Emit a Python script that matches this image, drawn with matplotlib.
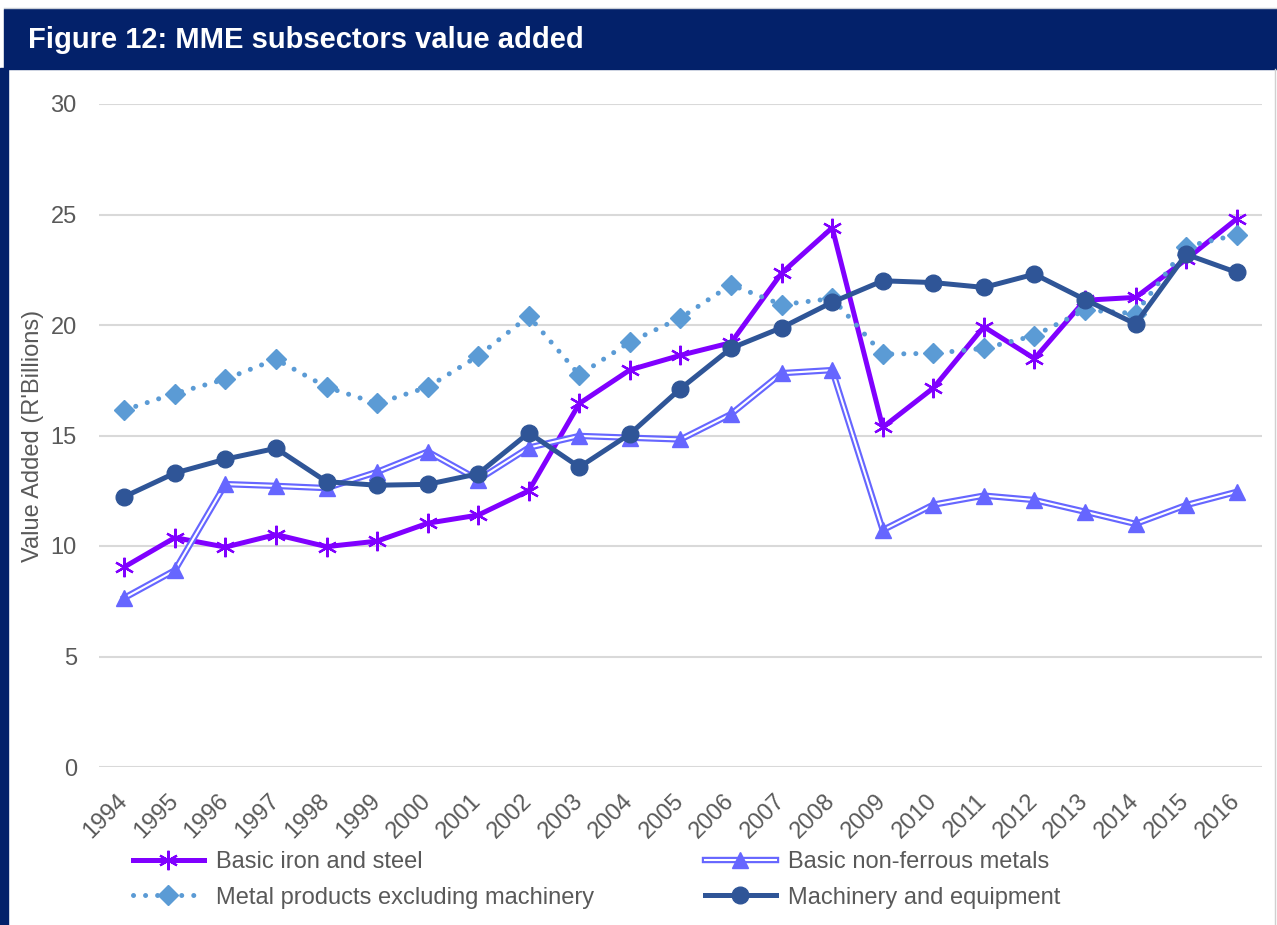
import matplotlib
matplotlib.use("Agg")
import matplotlib.pyplot as plt
import numpy as np
from matplotlib.lines import Line2D
from matplotlib.patches import Rectangle
from matplotlib.legend_handler import HandlerTuple

plt.rcParams["font.family"] = ["Liberation Sans", "DejaVu Sans"]

TITLE = "Figure 12: MME subsectors value added"
Y_LABEL = "Value Added (R'Billions)"

years = [str(y) for y in range(1994, 2017)]

iron_steel = [9.05, 10.38, 9.95, 10.52, 9.97, 10.22, 11.03, 11.4, 12.5, 16.45,
              17.97, 18.63, 19.2, 22.35, 24.4, 15.37, 17.15, 19.92, 18.48,
              21.12, 21.25, 22.97, 24.8]
non_ferrous = [7.65, 8.9, 12.8, 12.72, 12.62, 13.35, 14.27, 13.0, 14.45, 14.98,
               14.9, 14.82, 15.97, 17.82, 17.96, 10.72, 11.87, 12.28, 12.08,
               11.55, 11.0, 11.85, 12.45]
metal_products = [16.15, 16.9, 17.55, 18.45, 17.19, 16.45, 17.19, 18.6, 20.4,
                  17.74, 19.23, 20.32, 21.82, 20.92, 21.2, 18.68, 18.72, 18.94,
                  19.52, 20.68, 20.52, 23.55, 24.08]
machinery = [12.23, 13.3, 13.93, 14.42, 12.91, 12.75, 12.79, 13.27, 15.12,
             13.57, 15.07, 17.12, 18.95, 19.88, 21.03, 22.0, 21.92, 21.7, 22.3,
             21.15, 20.05, 23.2, 22.38]

labels = ["Basic iron and steel", "Basic non-ferrous metals",
          "Metal products excluding machinery", "Machinery and equipment"]

NAVY = "#03216A"
TEXT = "#595959"
C_IRON = "#8000FF"
C_NONF = "#6666FF"
C_METAL = "#5B9BD5"
C_MACH = "#2F5597"
ASTERISK = (6, 2, 0)

W, H = 1277, 925
fig = plt.figure(figsize=(W / 100, H / 100), dpi=100)

# frame: title band, navy left bar, thin grey edges
fig.patches.append(Rectangle((4 / W, 1 - 69 / H), 1 - 4 / W, 60 / H,
                             transform=fig.transFigure, color=NAVY, zorder=0))
fig.patches.append(Rectangle((0, 0), 8 / W, 1 - 68 / H,
                             transform=fig.transFigure, color=NAVY, zorder=0))
fig.lines.append(Line2D([4 / W, 1], [1 - 8 / H, 1 - 8 / H],
                        transform=fig.transFigure, color="#C8CDD6", lw=1))
fig.lines.append(Line2D([1 - 2 / W, 1 - 2 / W], [0, 1 - 69 / H],
                        transform=fig.transFigure, color="#D0D0D0", lw=1))
fig.text(28 / W, 1 - 40 / H, TITLE, color="white", fontsize=21,
         fontweight="bold", va="center", ha="left")

ax = fig.add_axes([99 / W, 1 - 767 / H, 1163 / W, 663 / H])
x = np.arange(len(years))

ax.plot(x, iron_steel, color=C_IRON, lw=3.6, marker=ASTERISK, ms=14,
        mew=1.6, mec=C_IRON, zorder=3)
ax.plot(x, non_ferrous, color=C_NONF, lw=4.6, solid_joinstyle="miter", zorder=4)
ax.plot(x, non_ferrous, color="white", lw=1.5, solid_joinstyle="miter", zorder=4)
ax.plot(x, non_ferrous, ls="none", marker="^", ms=12, color=C_NONF, zorder=4)
ax.plot(x, metal_products, color=C_METAL, lw=3.6, ls=(0, (0.01, 2.4)),
        dash_capstyle="round", marker="D", ms=10, zorder=5)
ax.plot(x, machinery, color=C_MACH, lw=3.6, marker="o", ms=12, zorder=6)

ax.set_xlim(-0.5, len(years) - 0.5)
ax.set_ylim(0, 30)
ax.set_yticks(np.arange(0, 31, 5))
ax.set_xticks(x)
ax.set_xticklabels(years, rotation=45, ha="right", va="center",
                   rotation_mode="anchor")
ax.tick_params(axis="both", length=0, labelsize=17, colors=TEXT)
ax.tick_params(axis="y", pad=16)
ax.tick_params(axis="x", pad=22)
ax.grid(axis="y", color="#D9D9D9", lw=1.5)
ax.set_axisbelow(True)
for s in ax.spines.values():
    s.set_visible(False)
ax.set_ylabel(Y_LABEL, fontsize=17, color=TEXT)
ax.yaxis.set_label_coords(-55 / 1163, 0.5)

h_iron = Line2D([], [], color=C_IRON, lw=3.6, marker=ASTERISK, ms=14, mew=1.6)
h_nonf = (Line2D([], [], color=C_NONF, lw=4.6),
          Line2D([], [], color="white", lw=1.5),
          Line2D([], [], ls="none", marker="^", ms=12, color=C_NONF))
h_metal = Line2D([], [], color=C_METAL, lw=3.6, ls=(0, (0.01, 2.4)),
                 dash_capstyle="round", marker="D", ms=10)
h_mach = Line2D([], [], color=C_MACH, lw=3.6, marker="o", ms=12)

common = dict(frameon=False, fontsize=17, labelcolor=TEXT, handlelength=3.0,
              handletextpad=0.5, labelspacing=0.58, borderpad=0,
              borderaxespad=0, loc="upper left",
              handler_map={tuple: HandlerTuple(ndivide=1, pad=0)})
fig.legend([h_iron, h_metal], [labels[0], labels[2]],
           bbox_to_anchor=(133 / W, 1 - 851 / H), **common)
fig.legend([h_nonf, h_mach], [labels[1], labels[3]],
           bbox_to_anchor=(705 / W, 1 - 851 / H), **common)

fig.savefig("out.png", dpi=100)
